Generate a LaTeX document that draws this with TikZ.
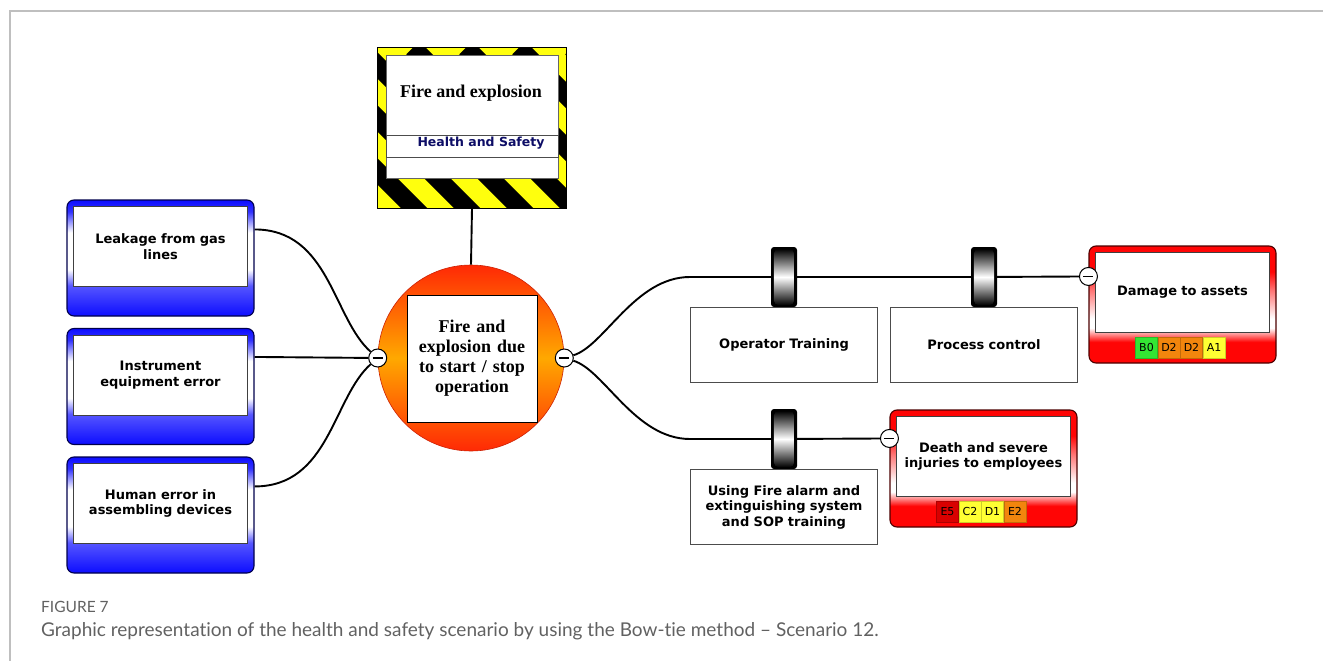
\documentclass[tikz,border=0pt]{standalone}
\usepackage{fontspec}
\setmainfont{Liberation Serif}
\newfontfamily\verdana{DejaVu Sans}
\newfontfamily\capfont[Ligatures=NoCommon]{Lato}
\usepackage{xcolor}
\usepackage{tikz}
\usetikzlibrary{calc, positioning}
\definecolor{bowBlue}{rgb}{0.05, 0.05, 1}
\definecolor{bowNavy}{rgb}{0, 0, 0.3}
\definecolor{bowRed}{rgb}{1, 0.02, 0.02}
\definecolor{bowMaroon}{rgb}{0.3, 0, 0}
\definecolor{hazYellow}{rgb}{1, 1, 0.05}
\definecolor{topRed}{rgb}{1, 0.16, 0.02}
\definecolor{topOrange}{rgb}{1, 0.66, 0}
\definecolor{riskGreen}{rgb}{0.2, 0.9, 0.2}
\definecolor{riskOrange}{rgb}{0.95, 0.52, 0.05}
\definecolor{riskYellow}{rgb}{1, 1, 0.2}
\definecolor{riskRed}{rgb}{0.85, 0, 0}
\definecolor{capGray}{rgb}{0.38, 0.38, 0.38}
\definecolor{hsNavy}{rgb}{0.05, 0.05, 0.4}
\pgfdeclareverticalshading{threatshade}{100bp}{color(0bp)=(bowBlue); color(25bp)=(bowBlue); color(38bp)=(bowBlue!70); color(45bp)=(white); color(61bp)=(white); color(70bp)=(bowBlue!85); color(75bp)=(bowBlue); color(100bp)=(bowBlue)}
\pgfdeclareverticalshading{consshade}{100bp}{color(0bp)=(bowRed); color(25bp)=(bowRed); color(34bp)=(bowRed); color(40bp)=(white); color(44bp)=(white); color(56bp)=(bowRed!55); color(64bp)=(bowRed); color(75bp)=(bowRed); color(100bp)=(bowRed)}
\newcommand{\Barrier}[2]{
	\def\bname{#1}
	\def\bpos{#2}
	\node[barrier] (\bname) at (\bpos) {};
	\shade[top color=black, bottom color=black, middle color=white, rounded corners=5pt] ($(\bname.north west)+(3,2)$) rectangle ($(\bname.south east)+(-3,-2)$);
}

\begin{document}
\begin{tikzpicture}[x=1pt, y=-1pt,
	conn/.style={line width=1.9pt, black},
	threat/.style={draw=bowNavy, line width=1.1pt, rounded corners=7pt, shading=threatshade, minimum width=187pt, minimum height=116pt, inner sep=0pt},
	conseq/.style={draw=bowMaroon, line width=1.1pt, rounded corners=7pt, shading=consshade, minimum width=187pt, minimum height=117pt, inner sep=0pt},
	inbox/.style={draw=black!75, fill=white, line width=0.8pt, minimum width=174pt, minimum height=80pt, text width=170pt, align=center, inner sep=0pt, font=\verdana\bfseries\fontsize{13}{15.5}\selectfont},
	ctrlbox/.style={draw=black!70, fill=white, line width=0.8pt, minimum width=187pt, minimum height=75pt, text width=180pt, align=center, inner sep=0pt, font=\verdana\bfseries\fontsize{13}{15.5}\selectfont},
	barrier/.style={fill=black, rounded corners=3pt, minimum width=26pt, minimum height=60pt, inner sep=0pt},
	minusmark/.style={circle, draw=black, fill=white, line width=1pt, minimum size=18pt, inner sep=0pt,
		path picture={\draw[line width=1.5pt] ($(path picture bounding box.center)+(-5,0)$) -- +(10,0);}},
	riskcell/.style={fill=#1, draw=#1!80!black, line width=0.5pt, minimum width=22pt, minimum height=21pt, inner sep=0pt, font=\verdana\fontsize{11}{11}\selectfont}
	]
	\useasboundingbox (0,0) rectangle (1323,661);
	\draw[black!25, line width=1.5pt] (10,661) -- (10,11) -- (1323,11);

	% hazard sign
	\node[fill=hazYellow, minimum width=188pt, minimum height=160pt, inner sep=0pt] (hazard) at (472,128) {};
	\begin{scope}
		\clip (hazard.north west) rectangle (hazard.south east);
		\foreach \s in {-230,-177,...,200}
			\draw[line width=18.5pt] ($(hazard.north west)+(\s,0)$) -- +(240,240);
	\end{scope}
	\draw[line width=0.8pt] (hazard.north west) rectangle (hazard.south east);
	\node[fill=white, draw=black!60, minimum width=172pt, minimum height=123pt, inner sep=0pt] (hz-in) at (472,116.5) {};
	\node[font=\bfseries\fontsize{18}{20}\selectfont] (hz-title) at (471,93) {Fire and explosion};
	\node[draw=black!70, fill=white, minimum width=172pt, minimum height=22pt, inner sep=0pt] (hz-row) at (472,146) {};
	\node[font=\verdana\bfseries\fontsize{12.5}{14}\selectfont, text=hsNavy, inner sep=0pt] (hz-area) at (481,143) {Health and Safety};

	% top event
	\node[circle, minimum size=186pt, inner sep=0pt, top color=topRed, bottom color=topRed, middle color=topOrange, draw=topRed!80!black, line width=0.6pt] (top) at (471,358) {};
	\node[fill=white, draw=black, line width=1pt, minimum width=130pt, minimum height=127pt, text width=128pt, align=center, inner sep=0pt, font=\bfseries\fontsize{18}{20}\selectfont] (top-txt) at (472,358.5) {Fire and\\explosion due\\to start / stop\\operation};
	\node[minusmark] (lm) at (top.west) {};
	\node[minusmark] (rm) at (top.east) {};
	\draw[conn] (hazard.south) -- (top.north);

	% threats
	\node[threat] (leak) at (160.5,258) {};
	\node[inbox] (leak-txt) at ($(leak.north)+(0,47)$) {Leakage from gas\\lines};
	\node[threat] (instr) at (160.5,386.5) {};
	\node[inbox] (instr-txt) at ($(instr.north)+(0,47)$) {Instrument\\equipment error};
	\node[threat] (human) at (160.5,515) {};
	\node[inbox] (human-txt) at ($(human.north)+(0,47)$) {Human error in\\assembling devices};
	\coordinate (leak-out) at ($(leak.north east)+(0,30)$);
	\coordinate (instr-out) at ($(instr.north east)+(0,29)$);
	\coordinate (human-out) at ($(human.north east)+(0,30)$);
	\draw[conn] (leak-out) .. controls +(75,0) and +(-45,-40) .. (lm);
	\draw[conn] (instr-out) -- (lm);
	\draw[conn] (human-out) .. controls +(75,0) and +(-45,40) .. (lm);

	% consequences
	\node[conseq] (dmg) at (1182.5,304.5) {};
	\node[inbox] (dmg-txt) at ($(dmg.north)+(0,47)$) {Damage to assets};
	\node[riskcell=riskGreen] (dmg-r1) at ($(dmg.north)+(-36,102)$) {B0};
	\node[riskcell=riskOrange, right=0pt of dmg-r1] (dmg-r2) {D2};
	\node[riskcell=riskOrange, right=0pt of dmg-r2] (dmg-r3) {D2};
	\node[riskcell=riskYellow, right=0pt of dmg-r3] (dmg-r4) {A1};
	\node[minusmark] (dm) at ($(dmg.north west)+(0,31)$) {};

	\node[conseq] (death) at (983.5,468.5) {};
	\node[inbox] (death-txt) at ($(death.north)+(0,47)$) {Death and severe\\injuries to employees};
	\node[riskcell=riskRed] (death-r1) at ($(death.north)+(-36,102)$) {E5};
	\node[riskcell=riskYellow, right=0pt of death-r1] (death-r2) {C2};
	\node[riskcell=riskYellow, right=0pt of death-r2] (death-r3) {D1};
	\node[riskcell=riskOrange, right=0pt of death-r3] (death-r4) {E2};
	\node[minusmark] (jm) at ($(death.north west)+(0,29)$) {};

	% barriers
	\Barrier{bar1}{784,277}
	\Barrier{bar2}{984,277}
	\Barrier{bar3}{784,439}
	\node[ctrlbox, below=0pt of bar1] (ctrl1) {Operator Training};
	\node[ctrlbox, below=0pt of bar2] (ctrl2) {Process control};
	\node[ctrlbox, below=0pt of bar3] (ctrl3) {Using Fire alarm and\\extinguishing system\\and SOP training};

	\coordinate (up-jn) at (690,277);
	\coordinate (lo-jn) at (690,439);
	\draw[conn] (rm) .. controls +(40,-12) and +(-55,0) .. (up-jn) -- (bar1);
	\draw[conn] (bar1) -- (bar2);
	\draw[conn] (bar2) -- (dm);
	\draw[conn] (rm) .. controls +(40,12) and +(-55,0) .. (lo-jn) -- (bar3);
	\draw[conn] (bar3) -- (jm);

	% caption
	\node[anchor=base west, font=\capfont\fontsize{15.5}{16}\selectfont, text=capGray, inner sep=0pt] (fig-no) at (41,612) {FIGURE 7};
	\node[anchor=base west, font=\capfont\fontsize{19}{21}\selectfont, text=capGray, inner sep=0pt] (fig-cap) at (41,636) {Graphic representation of the health and safety scenario by using the Bow-tie method – Scenario 12.};
\end{tikzpicture}
\end{document}
